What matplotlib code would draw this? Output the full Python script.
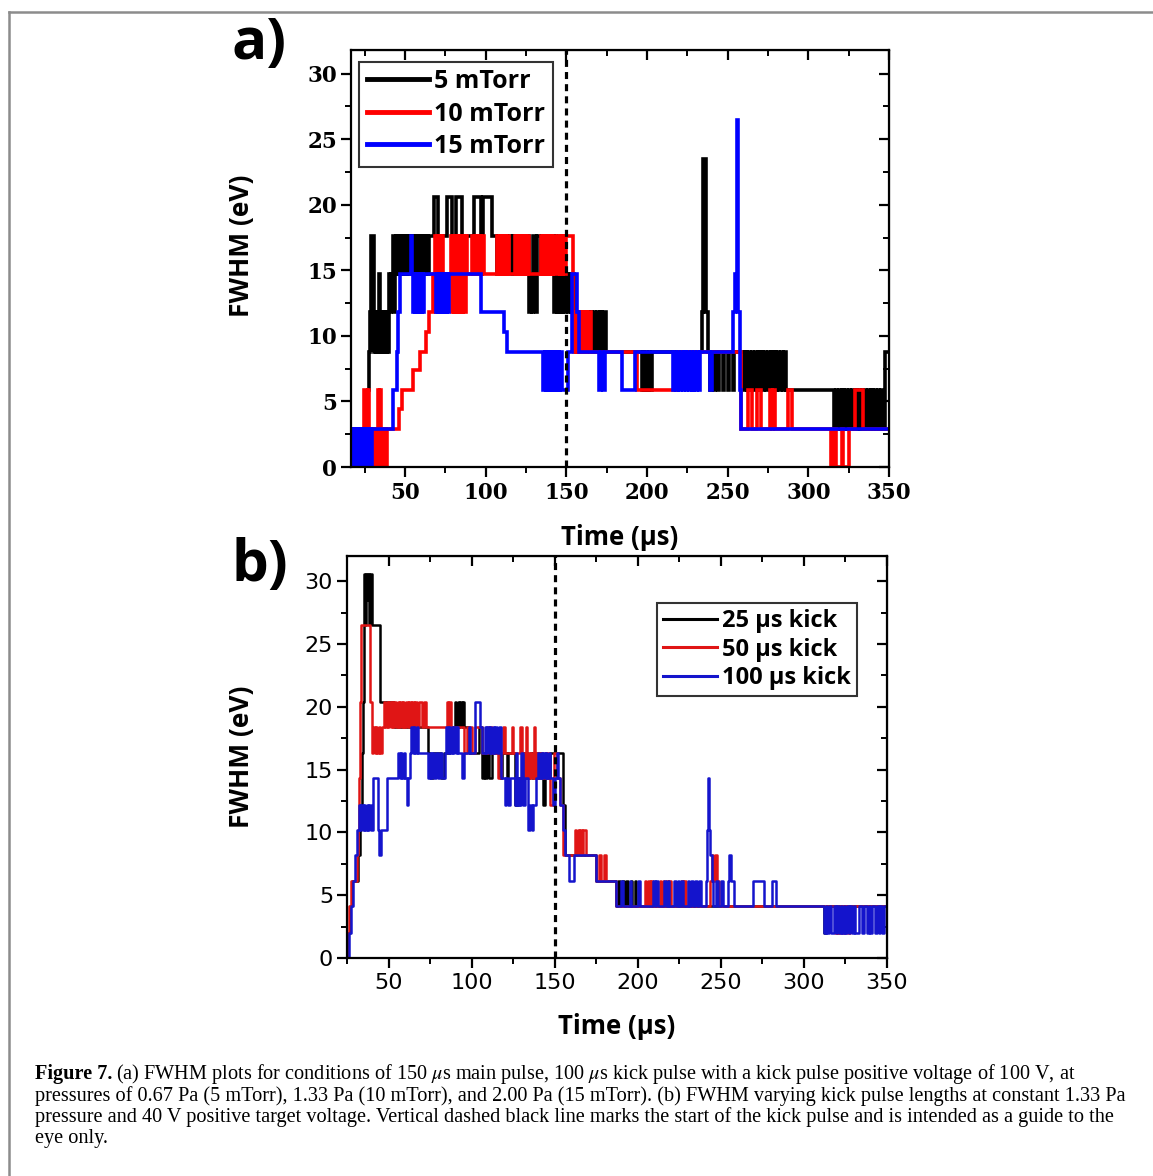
import matplotlib
matplotlib.use("Agg")
import matplotlib.pyplot as plt
from matplotlib.lines import Line2D

plt.rcParams['mathtext.fontset'] = 'stix'

# ---------------- data: panel a (FWHM vs time at 3 pressures) ----------------
a_labels = ["5 mTorr", "10 mTorr", "15 mTorr"]

a5_t = [16.5, 26.8, 27.4, 28.0, 28.6, 29.2, 30.8, 31.4, 32.0, 32.6, 33.2, 33.8, 34.6, 35.2, 35.8,
        36.4, 37.0, 37.6, 38.2, 38.8, 39.4, 40.0, 40.8, 41.6, 42.4, 43.2, 43.8, 44.4, 45.2, 45.8,
        46.4, 47.0, 47.6, 48.4, 49.0, 49.6, 50.4, 51.0, 52.0, 52.6, 53.4, 54.0, 55.0, 55.6, 56.4,
        57.0, 58.0, 58.6, 59.4, 60.0, 61.0, 61.6, 62.4, 63.0, 64.0, 64.6, 68.2, 70.6, 76.0, 78.8,
        81.6, 85.0, 92.6, 97.0, 98.2, 103.8, 107.0, 107.6, 110.0, 110.6, 113.0, 113.6, 116.6, 117.2,
        120.0, 120.6, 124.0, 124.6, 127.0, 128.0, 128.6, 129.6, 131.0, 131.8, 134.0, 134.6, 138.0,
        138.6, 142.4, 143.2, 144.0, 145.0, 145.6, 146.4, 147.2, 148.0, 149.0, 150.0, 151.0, 152.0,
        153.0, 153.8, 155.0, 156.0, 157.0, 158.0, 159.0, 160.0, 161.0, 162.0, 163.0, 164.0, 165.0,
        166.0, 167.0, 168.0, 169.0, 170.0, 171.0, 172.0, 173.0, 174.4, 196.8, 197.6, 198.4, 199.2,
        200.0, 201.0, 202.0, 202.8, 233.8, 234.6, 236.8, 237.8, 239.0, 240.0, 241.4, 242.2, 244.0,
        244.8, 247.0, 247.8, 250.0, 250.8, 253.0, 253.8, 260.0, 260.8, 262.0, 262.8, 264.0, 264.8,
        266.0, 266.8, 268.0, 268.8, 270.0, 270.8, 272.0, 272.8, 274.0, 274.8, 276.0, 276.8, 278.0,
        278.8, 280.0, 280.8, 282.0, 282.8, 284.0, 284.8, 286.0, 316.0, 317.0, 318.0, 319.0, 320.0,
        321.0, 322.0, 323.0, 324.0, 325.0, 326.0, 327.0, 328.0, 329.0, 330.0, 331.0, 332.0, 333.0,
        334.0, 335.0, 336.0, 337.0, 338.0, 339.0, 340.0, 341.0, 342.0, 343.0, 344.0, 345.0, 346.0,
        347.4, 350.0]
a5_v = [2.9, 5.9, 8.8, 11.8, 8.8, 17.6, 8.8, 11.8, 8.8, 11.8, 8.8, 14.7, 8.8, 11.8, 8.8,
        11.8, 8.8, 11.8, 8.8, 11.8, 8.8, 14.7, 11.8, 14.7, 17.6, 11.8, 14.7, 17.6, 14.7, 17.6,
        14.7, 17.6, 14.7, 17.6, 14.7, 17.6, 14.7, 17.6, 14.7, 17.6, 14.7, 17.6, 14.7, 17.6, 14.7,
        17.6, 14.7, 17.6, 14.7, 17.6, 14.7, 17.6, 14.7, 17.6, 14.7, 17.6, 20.6, 17.6, 20.6, 17.6,
        20.6, 17.6, 20.6, 17.6, 20.6, 17.6, 14.7, 17.6, 14.7, 17.6, 14.7, 17.6, 14.7, 17.6,
        14.7, 17.6, 14.7, 17.6, 11.8, 14.7, 11.8, 17.6, 11.8, 17.6, 14.7, 17.6, 14.7,
        17.6, 11.8, 17.6, 11.8, 14.7, 11.8, 17.6, 11.8, 14.7, 11.8, 14.7, 11.8, 14.7,
        11.8, 14.7, 11.8, 8.8, 11.8, 8.8, 11.8, 8.8, 11.8, 8.8, 11.8, 8.8, 11.8,
        8.8, 11.8, 8.8, 11.8, 8.8, 11.8, 8.8, 11.8, 8.8, 5.9, 8.8, 5.9, 8.8,
        5.9, 8.8, 5.9, 8.8, 11.8, 23.5, 11.8, 8.8, 5.9, 8.8, 5.9, 8.8, 5.9,
        8.8, 5.9, 8.8, 5.9, 8.8, 5.9, 8.8, 5.9, 8.8, 5.9, 8.8, 5.9, 8.8,
        5.9, 8.8, 5.9, 8.8, 5.9, 8.8, 5.9, 8.8, 5.9, 8.8, 5.9, 8.8, 5.9,
        8.8, 5.9, 8.8, 5.9, 8.8, 5.9, 8.8, 5.9, 2.9, 5.9, 2.9, 5.9, 2.9,
        5.9, 2.9, 5.9, 2.9, 5.9, 2.9, 5.9, 2.9, 5.9, 2.9, 5.9, 2.9, 5.9,
        2.9, 5.9, 2.9, 5.9, 2.9, 5.9, 2.9, 5.9, 2.9, 5.9, 2.9, 5.9, 2.9,
        8.8, 8.8]

a10_t = [16.5, 24.8, 26.4, 27.0, 27.6, 30.6, 31.4, 32.0, 33.0, 34.0, 34.6, 35.4, 36.0, 36.6, 37.4,
         38.0, 38.6, 46.0, 48.4, 55.0, 59.4, 62.8, 65.0, 67.2, 68.4, 69.0, 69.8, 70.6, 71.4, 72.2,
         73.0, 73.8, 78.2, 79.0, 79.8, 80.6, 81.4, 82.2, 83.0, 83.8, 84.6, 85.4, 86.2, 87.0, 87.8,
         88.6, 91.6, 92.4, 93.2, 94.0, 94.8, 95.6, 96.4, 97.2, 98.0, 99.0, 107.0, 107.8, 108.6,
         109.4, 110.2, 111.0, 111.8, 112.6, 113.4, 114.2, 118.0, 118.8, 119.6, 120.4, 121.2, 122.0,
         122.8, 123.6, 124.4, 125.2, 126.0, 126.8, 134.0, 134.8, 135.6, 136.4, 137.2, 138.0, 138.8,
         139.6, 140.4, 141.2, 142.0, 142.8, 145.0, 145.8, 146.6, 147.4, 148.2, 149.0, 150.0, 154.0,
         155.0, 155.8, 156.6, 157.4, 158.2, 159.0, 159.8, 160.6, 161.4, 162.2, 163.0, 164.0, 165.0,
         194.0, 219.0, 258.0, 262.8, 264.8, 268.4, 270.4, 276.0, 277.2, 278.4, 279.6, 287.4, 289.6,
         314.0, 316.0, 317.0, 320.6, 321.6, 325.0, 329.0, 333.6, 350.0]
a10_v = [2.9, 5.9, 2.9, 5.9, 2.9, 0.0, 2.9, 0.0, 5.9, 2.9, 5.9, 0.0, 2.9, 0.0, 2.9,
         0.0, 2.9, 4.4, 5.9, 7.4, 8.8, 10.3, 11.8, 14.7, 17.6, 11.8, 17.6, 11.8, 17.6, 11.8,
         17.6, 14.7, 17.6, 11.8, 17.6, 11.8, 17.6, 11.8, 17.6, 11.8, 17.6, 11.8, 17.6, 11.8, 17.6,
         14.7, 17.6, 14.7, 17.6, 14.7, 17.6, 14.7, 17.6, 14.7, 17.6, 14.7, 17.6, 14.7, 17.6,
         14.7, 17.6, 14.7, 17.6, 14.7, 17.6, 14.7, 17.6, 14.7, 17.6, 14.7, 17.6, 14.7,
         17.6, 14.7, 17.6, 14.7, 17.6, 14.7, 17.6, 14.7, 17.6, 14.7, 17.6, 14.7, 17.6,
         14.7, 17.6, 14.7, 17.6, 14.7, 17.6, 14.7, 17.6, 14.7, 17.6, 14.7, 17.6, 11.8,
         8.8, 11.8, 8.8, 11.8, 8.8, 11.8, 8.8, 11.8, 8.8, 11.8, 8.8, 11.8, 8.8,
         5.9, 8.8, 2.9, 5.9, 2.9, 5.9, 2.9, 5.9, 2.9, 5.9, 2.9, 5.9, 2.9,
         0.0, 2.9, 0.0, 2.9, 0.0, 2.9, 5.9, 2.9, 2.9]

a15_t = [16.5, 17.0, 17.6, 18.2, 18.8, 19.4, 20.0, 20.6, 21.2, 21.8, 22.4, 23.0, 23.6, 24.2, 24.8,
         25.4, 26.0, 26.6, 27.2, 27.8, 28.4, 29.0, 29.6, 30.6, 42.6, 45.0, 45.8, 46.6, 53.6, 54.6,
         55.2, 55.8, 56.4, 57.0, 57.6, 58.2, 58.8, 59.4, 60.0, 60.6, 61.2, 62.0, 69.4, 70.0, 70.6,
         71.2, 71.8, 72.4, 73.0, 73.6, 74.2, 74.8, 75.4, 76.0, 76.6, 77.4, 97.2, 111.6, 113.4, 135.8,
         136.6, 137.4, 138.2, 139.0, 139.8, 140.6, 141.4, 142.2, 143.0, 143.8, 144.6, 145.4, 146.2,
         147.0, 151.0, 153.6, 156.6, 158.0, 170.0, 171.6, 173.0, 174.0, 184.6, 192.4, 216.0, 217.0,
         218.0, 219.0, 220.0, 221.0, 222.0, 223.0, 224.0, 225.0, 226.0, 227.0, 228.0, 229.0, 230.0,
         231.0, 232.0, 233.0, 238.8, 240.0, 253.4, 254.6, 255.6, 256.6, 257.6, 258.4, 350.0]
a15_v = [2.9, 0.0, 2.9, 0.0, 2.9, 0.0, 2.9, 0.0, 2.9, 0.0, 2.9, 0.0, 2.9, 0.0, 2.9,
         0.0, 2.9, 0.0, 2.9, 0.0, 2.9, 0.0, 2.9, 2.9, 5.9, 8.8, 11.8, 14.7, 17.6, 14.7,
         11.8, 14.7, 11.8, 14.7, 11.8, 14.7, 11.8, 14.7, 11.8, 14.7, 11.8, 14.7, 11.8, 14.7, 11.8,
         14.7, 11.8, 14.7, 11.8, 14.7, 11.8, 14.7, 11.8, 14.7, 11.8, 14.7, 11.8, 10.3, 8.8, 5.9,
         8.8, 5.9, 8.8, 5.9, 8.8, 5.9, 8.8, 5.9, 8.8, 5.9, 8.8, 5.9, 8.8,
         5.9, 8.8, 14.7, 11.8, 8.8, 5.9, 8.8, 5.9, 8.8, 5.9, 8.8, 5.9, 8.8,
         5.9, 8.8, 5.9, 8.8, 5.9, 8.8, 5.9, 8.8, 5.9, 8.8, 5.9, 8.8, 5.9,
         8.8, 5.9, 8.8, 5.9, 8.8, 11.8, 14.7, 26.5, 11.8, 5.9, 2.9, 2.9]

# ---------------- data: panel b (FWHM vs time for 3 kick lengths) ----------------
b_labels = ["25 \u00b5s kick", "50 \u00b5s kick", "100 \u00b5s kick"]

b25_t = [24.0, 25.4, 26.6, 28.0, 31.6, 32.4, 33.0, 33.6, 34.2, 34.8, 35.4, 36.0, 36.6, 37.2, 37.8,
         38.4, 39.6, 44.8, 53.0, 73.8, 74.8, 76.6, 81.6, 83.0, 87.0, 89.8, 90.6, 91.4, 92.2, 93.0,
         93.8, 94.6, 95.4, 98.0, 104.0, 105.8, 107.2, 108.0, 109.4, 110.6, 112.0, 117.0, 118.0,
         121.0, 122.0, 126.0, 128.0, 130.0, 132.0, 133.0, 134.0, 135.0, 136.0, 137.0, 138.0, 139.0,
         140.0, 141.0, 142.0, 143.0, 144.0, 146.8, 154.6, 155.8, 175.0, 186.8, 188.0, 189.0, 190.4,
         191.4, 193.0, 194.0, 195.6, 196.6, 198.0, 198.8, 312.0, 313.0, 350.0]
b25_v = [0.0, 2.0, 4.1, 6.1, 8.2, 10.2, 12.2, 16.3, 20.4, 30.6, 26.5, 30.6, 28.5, 30.6, 26.5,
         30.6, 26.5, 20.4, 18.4, 16.3, 14.3, 16.3, 14.3, 16.3, 18.4, 20.4, 18.4, 20.4, 18.4, 20.4,
         18.4, 20.4, 18.4, 16.3, 18.4, 14.3, 16.3, 14.3, 16.3, 14.3, 16.3, 14.3, 16.3,
         14.3, 16.3, 12.2, 14.3, 16.3, 14.3, 16.3, 14.3, 16.3, 14.3, 16.3, 14.3, 16.3,
         14.3, 16.3, 14.3, 12.2, 14.3, 16.3, 12.2, 8.2, 6.1, 4.1, 6.1, 4.1, 6.1,
         4.1, 6.1, 4.1, 6.1, 4.1, 6.1, 4.1, 2.0, 4.1, 4.1]

b50_t = [24.0, 25.0, 26.2, 27.4, 30.6, 31.6, 32.2, 32.8, 33.4, 38.8, 39.8, 40.6, 41.4, 42.2, 43.0,
         43.8, 44.6, 45.8, 47.0, 47.8, 48.6, 49.4, 50.2, 51.0, 51.8, 52.6, 53.4, 54.4, 55.4, 56.2,
         57.0, 57.8, 58.6, 59.4, 60.4, 61.4, 62.4, 63.2, 64.0, 65.0, 66.0, 67.0, 68.4, 70.0, 71.0,
         72.4, 84.8, 85.6, 86.4, 87.6, 95.0, 97.0, 100.0, 102.0, 106.0, 110.0, 112.0, 116.0, 117.8,
         119.0, 120.0, 124.0, 125.0, 129.0, 130.0, 131.8, 132.6, 133.4, 134.2, 135.0, 135.8, 136.6,
         137.4, 138.2, 139.0, 139.8, 140.6, 141.4, 142.2, 143.0, 143.8, 144.6, 145.4, 146.2, 147.0,
         148.6, 149.4, 151.0, 153.0, 155.0, 162.2, 163.0, 163.8, 164.6, 165.4, 166.2, 167.0, 168.6,
         175.0, 176.6, 178.0, 179.4, 181.0, 187.0, 204.0, 205.0, 206.0, 207.0, 208.0, 209.0, 213.0,
         214.0, 215.0, 216.0, 217.0, 218.0, 219.0, 220.0, 226.0, 227.0, 228.0, 229.0, 243.6, 244.4,
         245.4, 246.4, 247.4, 248.6, 318.6, 319.6, 320.6, 321.6, 322.6, 323.6, 324.6, 325.6, 326.6,
         327.6, 350.0]
b50_v = [0.0, 2.0, 4.1, 6.1, 8.2, 10.2, 14.3, 20.4, 26.5, 20.4, 16.3, 18.4, 16.3, 18.4, 16.3,
         18.4, 16.3, 18.4, 20.4, 18.4, 20.4, 18.4, 20.4, 18.4, 20.4, 18.4, 20.4, 18.4, 20.4, 18.4,
         20.4, 18.4, 20.4, 18.4, 20.4, 18.4, 20.4, 18.4, 20.4, 18.4, 20.4, 18.4, 20.4, 18.4, 20.4,
         18.4, 20.4, 18.4, 20.4, 18.4, 16.3, 18.4, 16.3, 18.4, 16.3, 18.4, 16.3, 14.3, 16.3,
         18.4, 16.3, 18.4, 16.3, 18.4, 16.3, 14.3, 18.4, 14.3, 16.3, 14.3, 16.3, 14.3,
         18.4, 14.3, 16.3, 14.3, 16.3, 14.3, 16.3, 14.3, 16.3, 14.3, 16.3, 14.3, 12.2,
         14.3, 16.3, 14.3, 12.2, 8.2, 10.2, 8.2, 10.2, 8.2, 10.2, 8.2, 10.2, 8.2,
         6.1, 8.2, 6.1, 8.2, 6.1, 4.1, 6.1, 4.1, 6.1, 4.1, 6.1, 4.1, 6.1,
         4.1, 6.1, 4.1, 6.1, 4.1, 6.1, 4.1, 6.1, 4.1, 6.1, 4.1, 6.1, 8.2,
         6.1, 8.2, 6.1, 4.1, 2.0, 4.1, 2.0, 4.1, 2.0, 4.1, 2.0, 4.1, 2.0,
         4.1, 4.1]

b100_t = [24.6, 26.0, 27.0, 28.4, 29.8, 31.0, 31.8, 32.6, 33.4, 34.2, 35.0, 35.8, 36.6, 37.4, 38.2,
          39.0, 40.6, 43.4, 44.2, 45.2, 48.6, 55.8, 56.6, 57.4, 58.2, 59.0, 59.8, 60.8, 61.8, 62.8,
          63.6, 64.4, 65.2, 66.0, 66.8, 67.6, 73.8, 74.6, 75.4, 76.2, 77.0, 78.6, 79.4, 81.0, 81.8,
          83.8, 84.6, 85.4, 86.2, 87.0, 87.8, 88.6, 89.4, 90.2, 91.0, 91.8, 93.8, 95.4, 98.0, 99.0,
          101.8, 104.6, 105.8, 107.8, 108.6, 109.4, 110.2, 111.0, 111.8, 112.6, 113.4, 114.2, 115.0,
          116.6, 117.8, 119.8, 120.6, 122.0, 123.0, 125.8, 126.6, 127.4, 128.2, 129.0, 129.8, 130.6,
          131.8, 133.8, 134.8, 136.0, 137.0, 138.8, 139.8, 140.6, 141.4, 142.2, 143.0, 143.8, 144.6,
          145.4, 146.2, 147.0, 148.8, 150.2, 151.0, 151.8, 152.8, 154.6, 155.8, 158.2, 161.8, 175.0,
          186.8, 190.0, 191.0, 195.0, 196.0, 200.0, 201.0, 209.0, 210.0, 211.0, 212.0, 216.0, 217.0,
          218.0, 219.0, 222.0, 223.0, 224.0, 225.0, 226.0, 227.0, 230.0, 231.0, 232.0, 233.0, 234.6,
          235.6, 237.0, 238.0, 241.2, 241.8, 242.4, 243.0, 243.6, 244.4, 245.4, 247.0, 248.0, 250.0,
          251.0, 254.2, 254.8, 256.0, 258.0, 269.4, 275.8, 281.0, 283.2, 312.0, 313.0, 314.0, 315.0,
          316.0, 318.0, 319.0, 320.0, 321.0, 322.0, 323.0, 324.0, 325.0, 326.0, 327.0, 328.0, 329.0,
          330.0, 331.0, 333.0, 335.0, 336.0, 338.0, 339.0, 340.0, 341.0, 343.0, 344.0, 345.0, 346.0,
          347.0, 348.0, 350.0]
b100_v = [0.0, 2.0, 4.1, 6.1, 8.2, 10.2, 12.2, 10.2, 12.2, 10.2, 12.2, 10.2, 12.2, 10.2, 12.2,
          10.2, 14.3, 10.2, 8.2, 10.2, 14.3, 16.3, 14.3, 16.3, 14.3, 16.3, 14.3, 12.2, 14.3, 16.3,
          18.4, 16.3, 18.4, 16.3, 18.4, 16.3, 14.3, 16.3, 14.3, 16.3, 14.3, 16.3, 14.3, 16.3, 14.3,
          16.3, 18.4, 16.3, 18.4, 16.3, 18.4, 16.3, 18.4, 16.3, 18.4, 16.3, 14.3, 16.3, 18.4, 16.3,
          20.4, 18.4, 16.3, 18.4, 16.3, 18.4, 16.3, 18.4, 16.3, 18.4, 16.3, 18.4, 16.3,
          18.4, 14.3, 12.2, 14.3, 12.2, 14.3, 12.2, 16.3, 12.2, 14.3, 12.2, 16.3, 12.2,
          14.3, 10.2, 12.2, 10.2, 12.2, 14.3, 16.3, 14.3, 16.3, 14.3, 16.3, 14.3, 16.3,
          14.3, 16.3, 14.3, 12.2, 14.3, 16.3, 14.3, 12.2, 10.2, 8.2, 6.1, 8.2, 6.1,
          4.1, 6.1, 4.1, 6.1, 4.1, 6.1, 4.1, 6.1, 4.1, 6.1, 4.1, 6.1, 4.1,
          6.1, 4.1, 6.1, 4.1, 6.1, 4.1, 6.1, 4.1, 6.1, 4.1, 6.1, 4.1, 6.1,
          4.1, 6.1, 4.1, 6.1, 10.2, 14.3, 10.2, 8.2, 6.1, 4.1, 6.1, 4.1, 6.1,
          4.1, 6.1, 8.2, 6.1, 4.1, 6.1, 4.1, 6.1, 4.1, 2.0, 4.1, 2.0, 4.1,
          2.0, 4.1, 2.0, 4.1, 2.0, 4.1, 2.0, 4.1, 2.0, 4.1, 2.0, 4.1, 2.0,
          4.1, 2.0, 4.1, 2.0, 4.1, 2.0, 4.1, 2.0, 4.1, 2.0, 4.1, 2.0, 4.1,
          2.0, 4.1, 4.1]

x_ticks = [50, 100, 150, 200, 250, 300, 350]
y_ticks = [0, 5, 10, 15, 20, 25, 30]
kick_start = 150

caption_lines = [
    "(a) FWHM plots for conditions of 150 $\\mu$s main pulse, 100 $\\mu$s kick pulse with a kick pulse positive voltage of 100 V, at",
    "pressures of 0.67 Pa (5 mTorr), 1.33 Pa (10 mTorr), and 2.00 Pa (15 mTorr). (b) FWHM varying kick pulse lengths at constant 1.33 Pa",
    "pressure and 40 V positive target voltage. Vertical dashed black line marks the start of the kick pulse and is intended as a guide to the",
    "eye only.",
]

# ---------------- figure ----------------
W, H = 1153, 1176
fig = plt.figure(figsize=(W / 100, H / 100), dpi=100)

def fx(px):
    return px / W

def fy(py):
    return 1 - py / H

ax_a = fig.add_axes([fx(351), fy(467), fx(889) - fx(351), fy(50) - fy(467)])
ax_b = fig.add_axes([fx(347), fy(958), fx(887) - fx(347), fy(556) - fy(958)])

SANS = ['Open Sans', 'DejaVu Sans']


def style_axes(ax, xlim, ylim, tick_family, tick_weight, tick_size, ylab_xy):
    ax.set_xlim(*xlim)
    ax.set_ylim(*ylim)
    ax.set_xticks(x_ticks)
    ax.set_yticks(y_ticks)
    ax.set_xticks([25, 75, 125, 175, 225, 275, 325], minor=True)
    ax.set_yticks([2.5, 7.5, 12.5, 17.5, 22.5, 27.5], minor=True)
    for s in ax.spines.values():
        s.set_linewidth(1.6)
    ax.tick_params(which='major', direction='out', length=7, width=1.6, top=False, right=False)
    ax.tick_params(which='minor', direction='out', length=4, width=1.4, top=False, right=False)
    ax.tick_params(axis='x', pad=4)
    ax.tick_params(axis='y', pad=3)
    for lbl in ax.get_xticklabels() + ax.get_yticklabels():
        lbl.set_family(tick_family)
        lbl.set_weight(tick_weight)
        lbl.set_fontsize(tick_size)
    # inward ticks on top and right
    top = ax.secondary_xaxis('top')
    top.set_xticks(x_ticks)
    top.set_xticks([25, 75, 125, 175, 225, 275, 325], minor=True)
    top.tick_params(which='major', direction='in', length=7, width=1.6, labeltop=False)
    top.tick_params(which='minor', direction='in', length=4, width=1.4, labeltop=False)
    right = ax.secondary_yaxis('right')
    right.set_yticks(y_ticks)
    right.set_yticks([2.5, 7.5, 12.5, 17.5, 22.5, 27.5], minor=True)
    right.tick_params(which='major', direction='in', length=7, width=1.6, labelright=False)
    right.tick_params(which='minor', direction='in', length=4, width=1.4, labelright=False)
    ax.set_xlabel("Time (\u00b5s)", family=SANS, weight='bold', fontsize=18.5, labelpad=14)
    ax.set_ylabel("FWHM (eV)", family=SANS, weight='bold', fontsize=19)
    ax.yaxis.set_label_coords(*ylab_xy)
    ax.axvline(kick_start, color='black', lw=2.3, ls=(0, (2.2, 1.6)), zorder=5)


# panel a
a_colors = ['#000000', '#ff0000', '#0000ff']
for t, v, c, lab in zip([a5_t, a10_t, a15_t], [a5_v, a10_v, a15_v], a_colors, a_labels):
    ax_a.step(t, v, where='post', color=c, lw=2.6, label=lab, solid_joinstyle='miter')
style_axes(ax_a, (16.5, 350), (0, 31.8), ['DejaVu Serif'], 'bold', 15.5, (-0.178, 0.53))
leg_a = ax_a.legend(loc='upper left', bbox_to_anchor=(0.015, 0.972), borderaxespad=0,
                    prop={'family': SANS, 'weight': 'bold', 'size': 18},
                    handlelength=2.5, handletextpad=0.2, labelspacing=0.3, borderpad=0.3,
                    frameon=True, fancybox=False, edgecolor='black')
leg_a.get_frame().set_linewidth(1.5)
for h in leg_a.get_lines():
    h.set_linewidth(3.5)

# panel b
b_colors = ['#000000', '#e01515', '#1414cc']
for t, v, c, lab in zip([b25_t, b50_t, b100_t], [b25_v, b50_v, b100_v], b_colors, b_labels):
    ax_b.step(t, v, where='post', color=c, lw=1.8, label=lab)
style_axes(ax_b, (24.8, 350), (0, 32.0), ['DejaVu Sans'], 'normal', 16, (-0.170, 0.5))
leg_b = ax_b.legend(loc='upper right', bbox_to_anchor=(0.944, 0.883), borderaxespad=0,
                    prop={'family': SANS, 'weight': 'bold', 'size': 17},
                    handlelength=2.3, handletextpad=0.2, labelspacing=0.2, borderpad=0.25,
                    frameon=True, fancybox=False, edgecolor='black')
leg_b.get_frame().set_linewidth(1.5)
for h in leg_b.get_lines():
    h.set_linewidth(2.2)

# panel letters
fig.text(fx(231), fy(44), "a)", family=SANS, weight='bold', fontsize=42, va='center', ha='left')
fig.text(fx(231), fy(566), "b)", family=SANS, weight='bold', fontsize=42, va='center', ha='left')

# figure frame lines (top and left)
fig.add_artist(Line2D([fx(9), fx(9)], [0, fy(12)], transform=fig.transFigure, color='#8c8c8c', lw=1.8))
fig.add_artist(Line2D([fx(9), 1.0], [fy(12), fy(12)], transform=fig.transFigure, color='#8c8c8c', lw=1.8))

# caption
SERIF = ['Liberation Serif', 'DejaVu Serif']
cap_size = 14.6
renderer = fig.canvas.get_renderer()
bold = fig.text(fx(35), fy(1079), "Figure 7.", family=SERIF, weight='bold', fontsize=cap_size,
                va='baseline', ha='left')
bb = bold.get_window_extent(renderer=renderer)
fig.text(fx(bb.x1 + 4), fy(1079), caption_lines[0], family=SERIF, fontsize=cap_size,
         va='baseline', ha='left')
for i, line in enumerate(caption_lines[1:], start=1):
    fig.text(fx(35), fy(1079 + 21.5 * i), line, family=SERIF, fontsize=cap_size,
             va='baseline', ha='left')

fig.savefig("out.png", dpi=100)
